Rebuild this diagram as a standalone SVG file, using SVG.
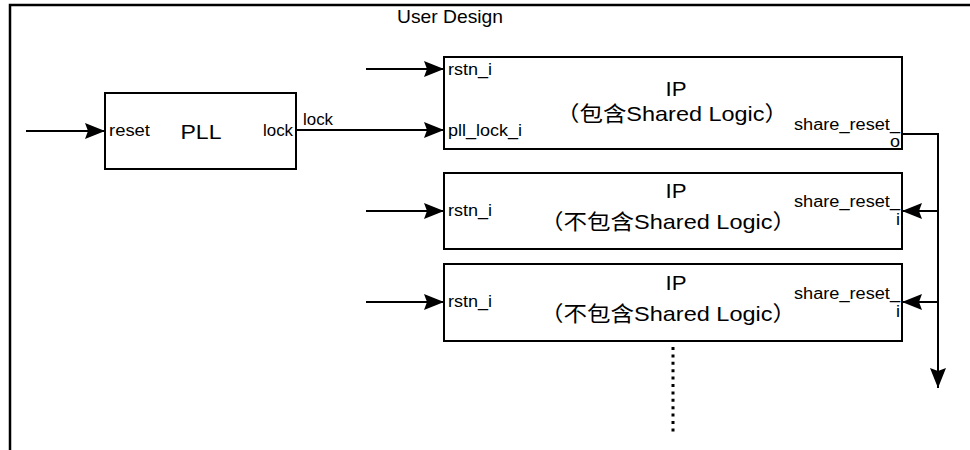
<svg xmlns="http://www.w3.org/2000/svg" width="970" height="450" viewBox="0 0 970 450">
<style>
text{font-family:"Liberation Sans","Noto Sans CJK SC",sans-serif;fill:#000}
.s{font-size:16px}
.b{font-size:21px}
.t{font-size:19px}
.box{fill:#fff;stroke:#000;stroke-width:2}
.w{fill:none;stroke:#000;stroke-width:2}
</style>
<defs>
<marker id="ah" markerUnits="userSpaceOnUse" markerWidth="22" markerHeight="18" refX="20" refY="8" orient="auto">
<path d="M0,0 L20,8 L0,16 L3,8 z" fill="#000"/>
</marker>
</defs>
<g id="frame">
<path d="M10,450 V5 H970" fill="none" stroke="#000" stroke-width="2.5"/>
<text class="t" x="450" y="23" text-anchor="middle" textLength="106" lengthAdjust="spacingAndGlyphs">User Design</text>
</g>
<g id="connectors">
<path class="w" d="M26,131 H105" marker-end="url(#ah)"/>
<path class="w" d="M296,130 H444" marker-end="url(#ah)"/>
<path class="w" d="M366,69 H444" marker-end="url(#ah)"/>
<path class="w" d="M366,211 H444" marker-end="url(#ah)"/>
<path class="w" d="M366,302 H444" marker-end="url(#ah)"/>
<path class="w" d="M902,134 H938 V388" marker-end="url(#ah)"/>
<path class="w" d="M938,211 H902" marker-end="url(#ah)"/>
<path class="w" d="M938,302 H902" marker-end="url(#ah)"/>
<text class="s" x="303" y="125" textLength="30" lengthAdjust="spacingAndGlyphs">lock</text>
<path d="M673,347 V432" fill="none" stroke="#000" stroke-width="3" stroke-dasharray="3 4.4"/>
</g>
<g id="pll">
<rect class="box" x="105" y="93" width="191" height="76"/>
<text class="s" x="109" y="136" textLength="41" lengthAdjust="spacingAndGlyphs">reset</text>
<text class="b" x="201" y="139" text-anchor="middle" textLength="41" lengthAdjust="spacingAndGlyphs">PLL</text>
<text class="s" x="293" y="136" text-anchor="end" textLength="30" lengthAdjust="spacingAndGlyphs">lock</text>
</g>
<g id="ip1">
<rect class="box" x="444" y="57" width="458" height="92"/>
<text class="s" x="448" y="75" textLength="44" lengthAdjust="spacingAndGlyphs">rstn_i</text>
<text class="s" x="448" y="136" textLength="74" lengthAdjust="spacingAndGlyphs">pll_lock_i</text>
<text class="b" x="676" y="96" text-anchor="middle" textLength="21" lengthAdjust="spacingAndGlyphs">IP</text>
<text class="b" x="672" y="121" text-anchor="middle" textLength="232" lengthAdjust="spacingAndGlyphs">（包含Shared Logic）</text>
<text class="s" x="900" y="130" text-anchor="end" textLength="106" lengthAdjust="spacingAndGlyphs">share_reset_</text>
<text class="s" x="900" y="147" text-anchor="end" textLength="10" lengthAdjust="spacingAndGlyphs">o</text>
</g>
<g id="ip2">
<rect class="box" x="444" y="173" width="458" height="76"/>
<text class="s" x="448" y="216" textLength="44" lengthAdjust="spacingAndGlyphs">rstn_i</text>
<text class="b" x="676" y="198" text-anchor="middle" textLength="21" lengthAdjust="spacingAndGlyphs">IP</text>
<text class="b" x="668" y="229" text-anchor="middle" textLength="256" lengthAdjust="spacingAndGlyphs">（不包含Shared Logic）</text>
<text class="s" x="900" y="207" text-anchor="end" textLength="106" lengthAdjust="spacingAndGlyphs">share_reset_</text>
<text class="s" x="900" y="225" text-anchor="end" textLength="4" lengthAdjust="spacingAndGlyphs">i</text>
</g>
<g id="ip3">
<rect class="box" x="444" y="264" width="458" height="77"/>
<text class="s" x="448" y="307" textLength="44" lengthAdjust="spacingAndGlyphs">rstn_i</text>
<text class="b" x="676" y="290" text-anchor="middle" textLength="21" lengthAdjust="spacingAndGlyphs">IP</text>
<text class="b" x="668" y="321" text-anchor="middle" textLength="256" lengthAdjust="spacingAndGlyphs">（不包含Shared Logic）</text>
<text class="s" x="900" y="299" text-anchor="end" textLength="106" lengthAdjust="spacingAndGlyphs">share_reset_</text>
<text class="s" x="900" y="317" text-anchor="end" textLength="4" lengthAdjust="spacingAndGlyphs">i</text>
</g>
</svg>
